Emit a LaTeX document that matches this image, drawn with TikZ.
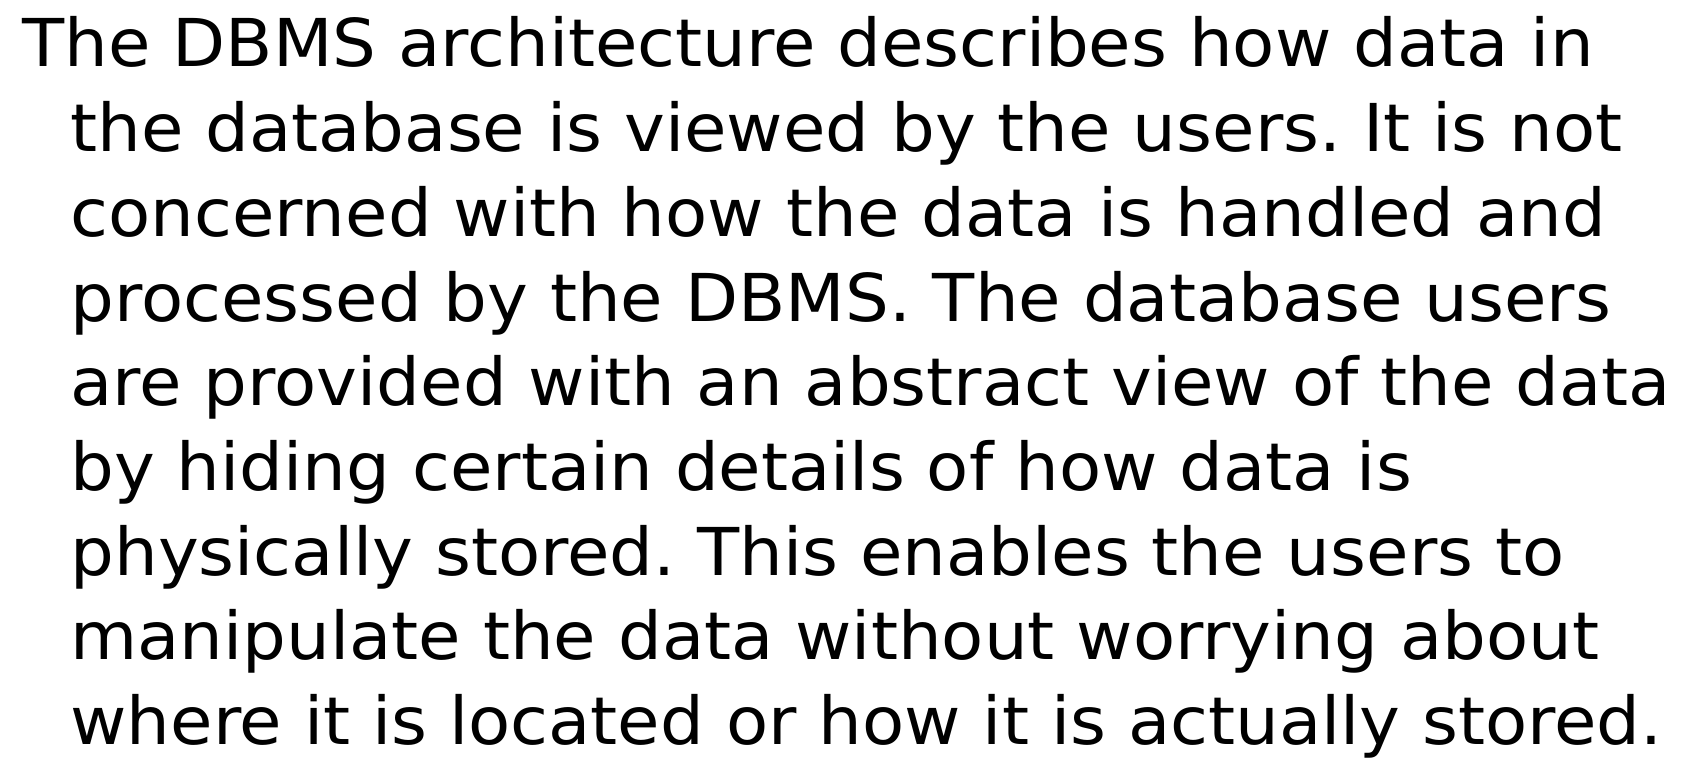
\documentclass[tikz,border=0pt]{standalone}
\usepackage{fontspec}
\setmainfont[FakeStretch=1.045]{DejaVu Sans}
\frenchspacing
\usetikzlibrary{positioning}
\tikzset{
    every picture/.style={line width=0.5pt},
    textline/.style={anchor=base west,inner sep=0pt,font=\fontsize{33pt}{40pt}\selectfont}
}
\begin{document}
\begin{tikzpicture}[x=1pt,y=-1pt]
    \useasboundingbox (0,0) rectangle (846,384.5);

    % first line, not indented
    \node[textline] (l1) at (11,33.5) {The DBMS architecture describes how data in};

    % hanging lines
    \node[textline] (l2) at (35,75.85) {the database is viewed by the users. It is not};
    \node[textline] (l3) at (35,118.2) {concerned with how the data is handled and};
    \node[textline] (l4) at (35,160.55) {processed by the DBMS. The database users};
    \node[textline] (l5) at (35,202.9) {are provided with an abstract view of the data};
    \node[textline] (l6) at (35,245.25) {by hiding certain details of how data is};
    \node[textline] (l7) at (35,287.6) {physically stored. This enables the users to};
    \node[textline] (l8) at (35,329.95) {manipulate the data without worrying about};
    \node[textline] (l9) at (35,372.3) {where it is located or how it is actually stored.};
\end{tikzpicture}
\end{document}
